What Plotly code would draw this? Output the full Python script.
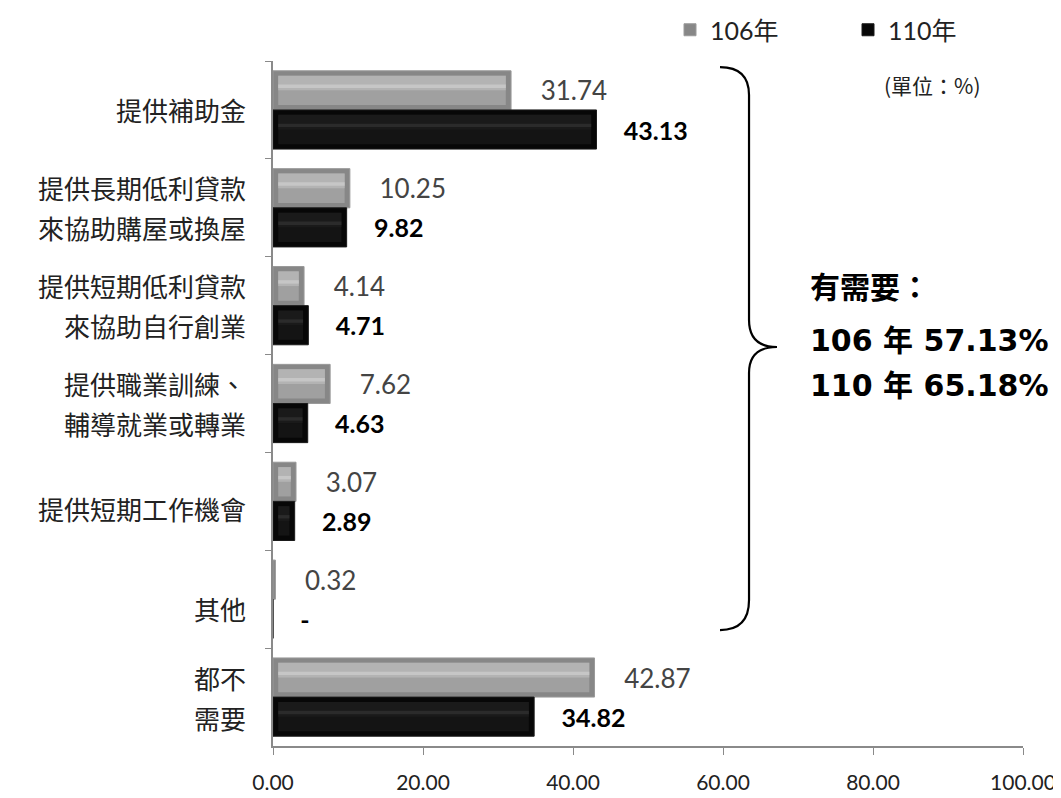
import plotly.graph_objects as go

categories = ["提供補助金", "提供長期低利貸款\n來協助購屋或換屋", "提供短期低利貸款\n來協助自行創業",
              "提供職業訓練、\n輔導就業或轉業", "提供短期工作機會", "其他", "都不\n需要"]
series_names = ["106年", "110年"]
values_106 = [31.74, 10.25, 4.14, 7.62, 3.07, 0.32, 42.87]
values_110 = [43.13, 9.82, 4.71, 4.63, 2.89, 0.0, 34.82]
x_ticks = [0, 20, 40, 60, 80, 100]
need_lines = ["有需要：", "106 年 57.13%", "110 年 65.18%"]
unit_text = "(單位：%)"

cat_ids = [f"c{i}" for i in range(len(categories))]
NB = "\u00a0"
LATIN = "Lato, 'Noto Sans CJK TC', sans-serif"
BOLDF = "'DejaVu Sans', 'Noto Sans CJK TC', sans-serif"
CJK = "'Noto Sans CJK TC', 'Noto Sans', sans-serif"

def fmt(v):
    return "-" if v == 0 else f"{v:.2f}"

# bar geometry on category axis (reversed: negative offset = upper bar)
BW = 0.4          # bar thickness (category units)
VIN = 0.05        # vertical bevel inset
HIN = 0.7         # horizontal bevel inset (x units)

styles = [
    dict(edge="#878787", line="#9a9a9a", face="#a0a0a0", upper="#b3b3b3", hi="#c6c6c6",
         tfont=dict(family=LATIN, size=26, color="#444444")),
    dict(edge="#070707", line="#1a1a1a", face="#141414", upper="#1a1a1a", hi="#2b2b2b",
         tfont=dict(family=LATIN, size=25, color="#000000", weight="bold")),
]

fig = go.Figure()
for k, (name, vals, st) in enumerate(zip(series_names, [values_106, values_110], styles)):
    off = -BW if k == 0 else 0.0
    inner = [max(v - 2 * HIN, 0) for v in vals]
    base = [HIN] * len(vals)
    # outer (bevel edge) bar carrying legend & value labels
    fig.add_trace(go.Bar(
        name=name, y=cat_ids, x=vals, orientation="h", offset=off, width=BW,
        marker=dict(color=st["edge"], line=dict(color=st["line"], width=1)),
        text=[NB * 4 + fmt(v) for v in vals], textposition="outside",
        textfont=st["tfont"], cliponaxis=False, constraintext="none",
    ))
    # inner face
    fig.add_trace(go.Bar(
        y=cat_ids, x=inner, base=base, orientation="h",
        offset=off + VIN, width=BW - 2 * VIN, marker=dict(color=st["face"], line=dict(width=0)),
        showlegend=False, hoverinfo="skip",
    ))
    # upper half of face (lighter)
    fig.add_trace(go.Bar(
        y=cat_ids, x=inner, base=base, orientation="h",
        offset=off + VIN, width=BW / 2 - VIN, marker=dict(color=st["upper"], line=dict(width=0)),
        showlegend=False, hoverinfo="skip",
    ))
    # highlight stripe
    fig.add_trace(go.Bar(
        y=cat_ids, x=inner, base=base, orientation="h",
        offset=off + 0.14, width=0.035, marker=dict(color=st["hi"], line=dict(width=0)),
        showlegend=False, hoverinfo="skip",
    ))

# category labels (two-line labels drawn as separate text lines)
single_shift = {0: 0, 4: -7, 5: -9}
for i, (cid, lab) in enumerate(zip(cat_ids, categories)):
    lines = lab.split("\n")
    shifts = [single_shift.get(i, 0)] if len(lines) == 1 else [20, -20]
    for line, sh in zip(lines, shifts):
        fig.add_annotation(x=-0.033, xref="paper", y=cid, yref="y", yshift=sh,
                           text=line, showarrow=False, xanchor="right", yanchor="middle",
                           font=dict(family=CJK, size=26, color="#222222"))

# page has an 8px body margin: screen pixel -> figure pixel
OFF = 8
W, H = 1061 - OFF, 798 - OFF
L, R, T, B = 273 - OFF, 1023 - OFF, 61 - OFF, 746 - OFF
def px(xs):
    return (xs - OFF - L) / (R - L)
def py(ys):
    return (B - (ys - OFF)) / (B - T)

# curly brace (screen pixel coordinates)
pts = dict(
    a=(720, 67), c1=(749, 67), b=(749, 95), c=(749, 320), c2=(749, 347), tip=(777, 347),
    c3=(749, 347), d=(749, 373), e=(749, 600), c4=(749, 630), f=(720, 630))
def P(k):
    x, y = pts[k]
    return f"{px(x):.4f},{py(y):.4f}"
path = (f"M {P('a')} Q {P('c1')} {P('b')} L {P('c')} Q {P('c2')} {P('tip')} "
        f"Q {P('c3')} {P('d')} L {P('e')} Q {P('c4')} {P('f')}")
fig.add_shape(type="path", path=path, xref="paper", yref="paper",
              line=dict(color="#000000", width=2.2))

for txt, yp in zip(need_lines, [287, 340, 385]):
    fig.add_annotation(x=px(808), y=py(yp), xref="paper", yref="paper", text=f"<b>{txt}</b>",
                       showarrow=False, xanchor="left", yanchor="middle",
                       font=dict(family=BOLDF, size=30, color="#000000"))

fig.add_annotation(x=px(932), y=py(85), xref="paper", yref="paper", text=unit_text,
                   showarrow=False, xanchor="center", yanchor="middle",
                   font=dict(family=CJK, size=21, color="#222222"))

fig.update_layout(
    width=W, height=H,
    margin=dict(l=L, r=W - R, t=T, b=H - B, autoexpand=False),
    paper_bgcolor="white", plot_bgcolor="white",
    barmode="overlay",
    showlegend=True,
    legend=dict(orientation="h", x=px(670), y=py(30), xanchor="left", yanchor="middle",
                font=dict(family=LATIN, size=25, color="#222222"),
                entrywidth=133, entrywidthmode="pixels", itemwidth=30,
                bgcolor="rgba(0,0,0,0)", traceorder="normal"),
    xaxis=dict(range=[0, 100], tickvals=x_ticks, tickformat=".2f", showgrid=False,
               zeroline=False, showline=True, linecolor="#8a8a8a", linewidth=1.5,
               ticks="outside", ticklen=7, tickcolor="#8a8a8a", ticklabelstandoff=10,
               tickfont=dict(family=LATIN, size=21, color="#222222")),
    yaxis=dict(categoryorder="array", categoryarray=cat_ids, autorange="reversed",
               showticklabels=False, showgrid=False, zeroline=False, showline=True,
               linecolor="#8a8a8a", linewidth=1.5, ticks="outside", tickson="boundaries",
               ticklen=6, tickcolor="#8a8a8a"),
)

fig.write_html("out.html")
